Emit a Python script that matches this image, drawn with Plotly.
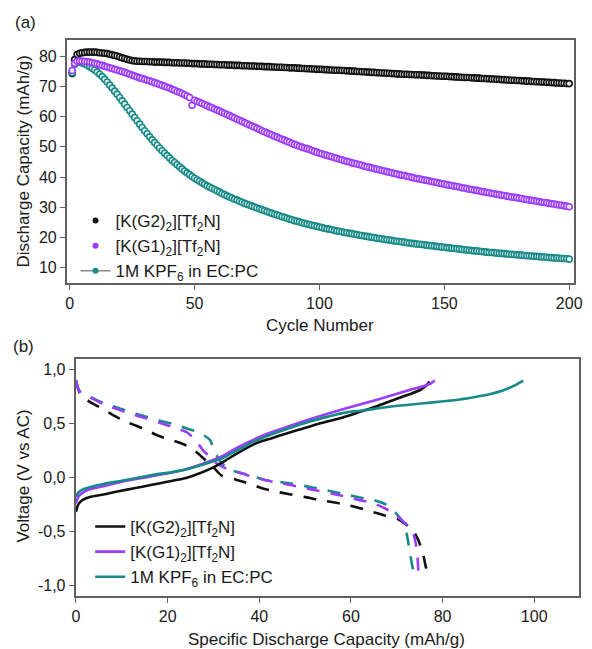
import plotly.graph_objects as go

W, H = 592, 649
def px(x): return x / W
def py(y): return 1 - y / H

# ---------------- Panel (a) data ----------------
cycles = list(range(1, 201))
cap_G2 = [
    74.2, 78.8, 80.5, 80.9, 81.1, 81.2, 81.3, 81.3, 81.3, 81.3,
    81.2, 81.1, 81.0, 80.9, 80.8, 80.6, 80.4, 80.2, 80.0, 79.7,
    79.4, 79.2, 78.9, 78.7, 78.5, 78.4, 78.3, 78.3, 78.2, 78.2,
    78.2, 78.1, 78.1, 78.0, 78.0, 78.0, 78.0, 77.9, 77.9, 77.9,
    77.8, 77.8, 77.8, 77.7, 77.7, 77.7, 77.6, 77.6, 77.5, 77.5,
    77.5, 77.4, 77.4, 77.4, 77.3, 77.3, 77.3, 77.2, 77.2, 77.1,
    77.1, 77.1, 77.0, 77.0, 77.0, 76.9, 76.9, 76.9, 76.8, 76.8,
    76.8, 76.7, 76.7, 76.7, 76.6, 76.6, 76.6, 76.5, 76.5, 76.5,
    76.4, 76.4, 76.3, 76.3, 76.3, 76.2, 76.2, 76.1, 76.1, 76.1,
    76.0, 76.0, 75.9, 75.9, 75.8, 75.8, 75.7, 75.7, 75.6, 75.6,
    75.6, 75.5, 75.5, 75.4, 75.4, 75.3, 75.3, 75.3, 75.2, 75.2,
    75.1, 75.1, 75.0, 75.0, 74.9, 74.9, 74.8, 74.8, 74.7, 74.7,
    74.6, 74.6, 74.5, 74.5, 74.4, 74.4, 74.3, 74.3, 74.2, 74.2,
    74.1, 74.1, 74.0, 74.0, 74.0, 73.9, 73.9, 73.8, 73.8, 73.8,
    73.7, 73.7, 73.6, 73.6, 73.5, 73.5, 73.4, 73.4, 73.3, 73.3,
    73.3, 73.2, 73.2, 73.1, 73.1, 73.0, 73.0, 72.9, 72.9, 72.9,
    72.8, 72.8, 72.7, 72.7, 72.6, 72.6, 72.5, 72.5, 72.4, 72.4,
    72.3, 72.3, 72.2, 72.2, 72.1, 72.1, 72.0, 72.0, 71.9, 71.9,
    71.8, 71.8, 71.7, 71.7, 71.6, 71.6, 71.5, 71.5, 71.4, 71.4,
    71.3, 71.3, 71.2, 71.2, 71.1, 71.1, 71.0, 71.0, 70.9, 70.9,
]
cap_G1 = [
    75.2, 77.6, 78.3, 78.4, 78.3, 78.2, 78.1, 78.0, 77.8, 77.6,
    77.4, 77.1, 76.9, 76.6, 76.4, 76.1, 75.9, 75.6, 75.4, 75.1,
    74.9, 74.6, 74.3, 74.0, 73.7, 73.4, 73.1, 72.8, 72.6, 72.3,
    72.0, 71.8, 71.5, 71.2, 70.9, 70.6, 70.3, 70.0, 69.7, 69.4,
    69.0, 68.7, 68.3, 68.0, 67.6, 67.2, 66.8, 66.3, 63.7, 65.4,
    65.0, 64.7, 64.3, 64.0, 63.6, 63.2, 62.9, 62.5, 62.2, 61.8,
    61.4, 61.0, 60.7, 60.3, 59.9, 59.5, 59.1, 58.8, 58.4, 58.0,
    57.6, 57.2, 56.9, 56.5, 56.1, 55.7, 55.3, 55.0, 54.6, 54.2,
    53.9, 53.5, 53.2, 52.8, 52.5, 52.2, 51.8, 51.5, 51.1, 50.8,
    50.5, 50.2, 49.9, 49.6, 49.4, 49.1, 48.8, 48.5, 48.2, 47.9,
    47.7, 47.4, 47.2, 46.9, 46.7, 46.4, 46.2, 45.9, 45.7, 45.4,
    45.2, 45.0, 44.7, 44.5, 44.3, 44.1, 43.9, 43.6, 43.4, 43.2,
    43.0, 42.8, 42.6, 42.4, 42.2, 42.0, 41.8, 41.6, 41.4, 41.2,
    41.0, 40.8, 40.6, 40.5, 40.3, 40.1, 39.9, 39.7, 39.5, 39.4,
    39.2, 39.0, 38.9, 38.7, 38.5, 38.4, 38.2, 38.0, 37.8, 37.7,
    37.5, 37.3, 37.2, 37.0, 36.9, 36.7, 36.5, 36.4, 36.2, 36.0,
    35.9, 35.7, 35.6, 35.4, 35.2, 35.1, 34.9, 34.8, 34.6, 34.5,
    34.3, 34.2, 34.0, 33.9, 33.7, 33.6, 33.4, 33.3, 33.2, 33.0,
    32.9, 32.7, 32.6, 32.4, 32.3, 32.2, 32.0, 31.9, 31.7, 31.6,
    31.5, 31.3, 31.2, 31.1, 30.9, 30.8, 30.7, 30.5, 30.4, 30.2,
]
cap_KPF6 = [
    74.5, 77.3, 78.0, 78.0, 77.7, 77.4, 77.0, 76.5, 76.0, 75.4,
    74.7, 74.0, 73.2, 72.3, 71.4, 70.4, 69.4, 68.4, 67.4, 66.3,
    65.2, 64.1, 63.0, 61.9, 60.8, 59.7, 58.6, 57.5, 56.4, 55.3,
    54.3, 53.3, 52.3, 51.4, 50.5, 49.6, 48.7, 47.9, 47.1, 46.3,
    45.5, 44.8, 44.1, 43.4, 42.7, 42.0, 41.4, 40.8, 40.2, 39.6,
    39.1, 38.6, 38.1, 37.6, 37.1, 36.7, 36.3, 35.9, 35.5, 35.1,
    34.6, 34.2, 33.8, 33.4, 33.1, 32.7, 32.4, 32.0, 31.7, 31.3,
    31.0, 30.7, 30.4, 30.1, 29.8, 29.5, 29.2, 28.9, 28.6, 28.3,
    28.0, 27.7, 27.5, 27.2, 26.9, 26.7, 26.4, 26.1, 25.9, 25.6,
    25.4, 25.2, 24.9, 24.7, 24.5, 24.3, 24.1, 23.9, 23.7, 23.5,
    23.3, 23.1, 22.9, 22.8, 22.6, 22.4, 22.2, 22.1, 21.9, 21.7,
    21.6, 21.4, 21.3, 21.1, 21.0, 20.8, 20.7, 20.5, 20.4, 20.2,
    20.1, 20.0, 19.8, 19.7, 19.6, 19.4, 19.3, 19.2, 19.1, 18.9,
    18.8, 18.7, 18.6, 18.5, 18.3, 18.2, 18.1, 18.0, 17.9, 17.8,
    17.7, 17.6, 17.5, 17.4, 17.3, 17.2, 17.1, 17.0, 16.9, 16.8,
    16.7, 16.6, 16.5, 16.4, 16.3, 16.2, 16.1, 16.0, 15.9, 15.8,
    15.7, 15.6, 15.6, 15.5, 15.4, 15.3, 15.2, 15.1, 15.1, 15.0,
    14.9, 14.8, 14.8, 14.7, 14.6, 14.5, 14.5, 14.4, 14.3, 14.3,
    14.2, 14.1, 14.0, 14.0, 13.9, 13.8, 13.8, 13.7, 13.6, 13.6,
    13.5, 13.4, 13.4, 13.3, 13.3, 13.2, 13.1, 13.1, 13.0, 12.9,
]

# ---------------- Panel (b) data ----------------
# charge (solid)
G2_ch_x = [0, 0.5, 1.4, 3, 5.7, 9, 12.7, 16.3, 19.9, 23.5, 27, 29.5, 32.7, 35, 37.7, 40, 42, 44.5,
           48.4, 53, 58.4, 62, 65.5, 69, 72.6, 75, 76.3, 77.2]
G2_ch_v = [-0.32, -0.25, -0.21, -0.18, -0.16, -0.13, -0.10, -0.07, -0.04, -0.01, 0.04, 0.085, 0.16, 0.22,
           0.285, 0.33, 0.355, 0.39, 0.44, 0.50, 0.56, 0.61, 0.66, 0.715, 0.77, 0.81, 0.85, 0.89]
G1_ch_x = [0, 0.5, 1.5, 3, 6, 10, 16.3, 23.5, 29.2, 32, 34.2, 37.7, 42, 46, 51, 58.4, 65.5, 72.6,
           76, 77.5, 78.3]
G1_ch_v = [-0.24, -0.18, -0.14, -0.11, -0.08, -0.04, 0.01, 0.07, 0.15, 0.20, 0.255, 0.33, 0.41, 0.47,
           0.54, 0.635, 0.72, 0.81, 0.85, 0.875, 0.90]
K_ch_x = [0, 0.5, 1.5, 3, 6, 10, 16.3, 23.5, 29.2, 32, 34.2, 37.7, 42, 46, 51, 55, 58.4, 62, 64.8,
          68, 72.6, 76, 79.7, 83, 86.8, 90, 93, 95.5, 97.6]
K_ch_v = [-0.18, -0.14, -0.11, -0.09, -0.06, -0.03, 0.02, 0.07, 0.14, 0.18, 0.23, 0.31, 0.39, 0.45,
          0.52, 0.565, 0.60, 0.62, 0.635, 0.655, 0.675, 0.69, 0.705, 0.72, 0.745, 0.77, 0.805, 0.85, 0.90]
# discharge (dashed)
G2_dc_x = [0, 0.3, 1, 3.1, 5.7, 8.5, 11.4, 14.9, 17.8, 19.9, 22.8, 25.3, 27, 28.5, 29.9, 31.7, 34.9,
           37.7, 40.6, 43.5, 46.6, 49.9, 52.7, 55.5, 58.7, 61.6, 64.4, 67.2, 70.4, 72.5, 73.7, 74.7,
           75.7, 76.3, 76.8]
G2_dc_v = [0.9, 0.85, 0.77, 0.70, 0.64, 0.57, 0.51, 0.45, 0.39, 0.36, 0.32, 0.27, 0.21, 0.15, 0.10, 0.02,
           -0.02, -0.055, -0.10, -0.13, -0.155, -0.18, -0.205, -0.225, -0.25, -0.28, -0.315, -0.35,
           -0.39, -0.45, -0.50, -0.58, -0.70, -0.82, -0.90]
G1_dc_x = [0, 0.3, 1, 3.5, 6, 9.3, 12, 15.3, 18.1, 21.3, 24.2, 26, 27.7, 29, 30.2, 32.7, 35.2, 38.4,
           43, 46.9, 50.1, 53.1, 55.9, 59.1, 61.9, 65, 67.6, 69.8, 72.5, 73.5, 74.1, 74.5, 74.7, 74.8]
G1_dc_v = [0.9, 0.84, 0.79, 0.735, 0.68, 0.63, 0.59, 0.55, 0.51, 0.465, 0.42, 0.35, 0.255, 0.20, 0.146,
           0.085, 0.054, 0.007, -0.04, -0.07, -0.10, -0.125, -0.15, -0.18, -0.21, -0.24, -0.29, -0.35,
           -0.45, -0.50, -0.60, -0.72, -0.85, -0.90]
K_dc_x = [0, 0.3, 1, 3.5, 6, 9.3, 12, 15.3, 18.1, 21.3, 24.2, 26.7, 28, 29.2, 30.2, 31.3, 33, 34.9,
          37.7, 41, 46.9, 50.1, 53.1, 55.9, 59.1, 61.9, 65, 67.6, 69.8, 71.5, 72.3, 72.8, 73.3, 73.6, 74]
K_dc_v = [0.9, 0.84, 0.79, 0.74, 0.69, 0.645, 0.605, 0.565, 0.53, 0.495, 0.455, 0.42, 0.39, 0.35, 0.25,
          0.16, 0.09, 0.054, 0.023, -0.02, -0.055, -0.08, -0.105, -0.13, -0.16, -0.185, -0.21, -0.25,
          -0.33, -0.42, -0.55, -0.68, -0.80, -0.86, -0.90]

names = ["[K(G2)<sub>2</sub>][Tf<sub>2</sub>N]", "[K(G1)<sub>2</sub>][Tf<sub>2</sub>N]",
         "1M KPF<sub>6</sub> in EC:PC"]
C_BLACK, C_PURPLE, C_TEAL = "#111111", "#9b3cff", "#178a88"

FONT = "Liberation Sans, Arial, sans-serif"
TXT = "#1a1a1a"
AX = "#606060"

fig = go.Figure()

# panel (a) data traces
for y, c in [(cap_G2, C_BLACK), (cap_KPF6, C_TEAL), (cap_G1, C_PURPLE)]:
    fig.add_trace(go.Scatter(x=cycles, y=y, mode="markers", xaxis="x", yaxis="y", showlegend=False,
                             marker=dict(symbol="circle", size=6, color="rgba(255,255,255,0.85)",
                                         line=dict(color=c, width=1.6)), hoverinfo="skip"))
# panel (a) legend entries
fig.add_trace(go.Scatter(x=[None], y=[None], mode="markers", name=names[0], legend="legend",
                         marker=dict(size=6, color=C_BLACK), xaxis="x", yaxis="y"))
fig.add_trace(go.Scatter(x=[None], y=[None], mode="markers", name=names[1], legend="legend",
                         marker=dict(size=6, color=C_PURPLE), xaxis="x", yaxis="y"))
fig.add_trace(go.Scatter(x=[None], y=[None], mode="lines+markers", name=names[2], legend="legend",
                         line=dict(color="#8a8a8a", width=1.5),
                         marker=dict(size=6, color=C_TEAL), xaxis="x", yaxis="y"))

# panel (b)
DASH = "13px,11px"
for dx, dv, c in [(G2_dc_x, G2_dc_v, C_BLACK), (K_dc_x, K_dc_v, C_TEAL), (G1_dc_x, G1_dc_v, C_PURPLE)]:
    fig.add_trace(go.Scatter(x=dx, y=dv, mode="lines", xaxis="x2", yaxis="y2", showlegend=False,
                             line=dict(color=c, width=2.6, dash=DASH, shape="spline", smoothing=0.6),
                             hoverinfo="skip"))
for cx, cv, c, n in [(G2_ch_x, G2_ch_v, C_BLACK, names[0]),
                     (G1_ch_x, G1_ch_v, C_PURPLE, names[1]),
                     (K_ch_x, K_ch_v, C_TEAL, names[2])]:
    fig.add_trace(go.Scatter(x=cx, y=cv, mode="lines", xaxis="x2", yaxis="y2", name=n, legend="legend2",
                             line=dict(color=c, width=2.6, shape="spline", smoothing=0.6),
                             hoverinfo="skip"))

axis_common = dict(showline=True, linecolor=AX, linewidth=1.6, mirror=True, ticks="outside",
                   ticklen=5, tickwidth=1.4, tickcolor=AX, showgrid=False, zeroline=False,
                   tickfont=dict(size=16, color=TXT, family=FONT))

def label(text, x, y, angle=0):
    return dict(text=text, x=px(x), y=py(y), xref="paper", yref="paper", showarrow=False,
                xanchor="center", yanchor="middle", textangle=angle,
                font=dict(size=17, color=TXT, family=FONT))

fig.update_layout(
    width=W, height=H, margin=dict(l=0, r=0, t=0, b=0),
    paper_bgcolor="white", plot_bgcolor="white",
    font=dict(family=FONT, color=TXT),
    xaxis=dict(domain=[px(64), px(582)], range=[-1.2, 202], anchor="y",
               tickvals=[0, 50, 100, 150, 200], **axis_common),
    yaxis=dict(domain=[py(283), py(40)], range=[5, 85.3], anchor="x",
               tickvals=[10, 20, 30, 40, 50, 60, 70, 80], **axis_common),
    xaxis2=dict(domain=[px(73), px(587)], range=[-0.1, 109.8], anchor="y2",
                tickvals=[0, 20, 40, 60, 80, 100], **axis_common),
    yaxis2=dict(domain=[py(596), py(359)], range=[-1.1, 1.1], anchor="x2",
                tickvals=[-1.0, -0.5, 0.0, 0.5, 1.0], ticktext=["-1,0", "-0,5", "0,0", "0,5", "1,0"],
                **axis_common),
    legend=dict(x=px(73), y=py(203), xanchor="left", yanchor="top", bgcolor="rgba(0,0,0,0)",
                font=dict(size=17, color=TXT, family=FONT), tracegroupgap=0),
    legend2=dict(x=px(88), y=py(509), xanchor="left", yanchor="top", bgcolor="rgba(0,0,0,0)",
                 font=dict(size=17, color=TXT, family=FONT), tracegroupgap=0),
    annotations=[
        label("(a)", 22, 22),
        label("(b)", 20, 346),
        label("Discharge Capacity (mAh/g)", 19, 161, -90),
        label("Cycle Number", 323, 325),
        label("Voltage (V vs AC)", 19, 476, -90),
        label("Specific Discharge Capacity (mAh/g)", 329, 639),
    ],
)

fig.write_html("out.html")
